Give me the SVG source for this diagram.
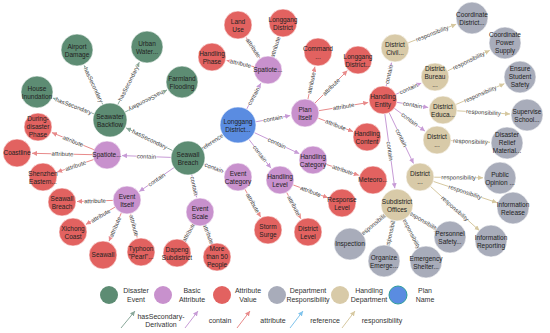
<svg xmlns="http://www.w3.org/2000/svg" width="550" height="333" viewBox="0 0 550 333">
<defs>
<style>
text{font-family:"Liberation Sans",Arial,sans-serif}
.n text{font-size:6.5px;fill:#222;text-anchor:middle}
.n circle{stroke:#ffffff;stroke-opacity:.6;stroke-width:1}
.g{fill:#5d8c73}.p{fill:#c891cd}.r{fill:#e26260}.y{fill:#a8acba}.e{fill:#d8caa8}.b{fill:#5a8ce1}
#edges line{stroke-width:1;fill:none}
.hs{stroke:#8aa89a;marker-end:url(#mG)}
.ct{stroke:#c79bd6;marker-end:url(#mP)}
.at{stroke:#e88a8a;marker-end:url(#mR)}
.rf{stroke:#7fc3ec;marker-end:url(#mB)}
.rs{stroke:#d6c8a0;marker-end:url(#mY)}
.el{font-size:6px;fill:#444;stroke:#fff;stroke-width:1.5;stroke-opacity:.85;paint-order:stroke;text-anchor:middle}
.lg{font-size:7px;fill:#333;text-anchor:middle}
</style>
<marker id="mG" viewBox="0 0 6 6" refX="6" refY="3" markerWidth="5" markerHeight="5" markerUnits="userSpaceOnUse" orient="auto"><path d="M0,0L6,3L0,6z" fill="#8aa89a"/></marker>
<marker id="mP" viewBox="0 0 6 6" refX="6" refY="3" markerWidth="5" markerHeight="5" markerUnits="userSpaceOnUse" orient="auto"><path d="M0,0L6,3L0,6z" fill="#c79bd6"/></marker>
<marker id="mR" viewBox="0 0 6 6" refX="6" refY="3" markerWidth="5" markerHeight="5" markerUnits="userSpaceOnUse" orient="auto"><path d="M0,0L6,3L0,6z" fill="#e88a8a"/></marker>
<marker id="mB" viewBox="0 0 6 6" refX="6" refY="3" markerWidth="5" markerHeight="5" markerUnits="userSpaceOnUse" orient="auto"><path d="M0,0L6,3L0,6z" fill="#7fc3ec"/></marker>
<marker id="mY" viewBox="0 0 6 6" refX="6" refY="3" markerWidth="5" markerHeight="5" markerUnits="userSpaceOnUse" orient="auto"><path d="M0,0L6,3L0,6z" fill="#d6c8a0"/></marker>
</defs>
<rect width="550" height="333" fill="#ffffff"/>

<g id="edges">
<line class="hs" x1="172.7" y1="150.6" x2="126.2" y2="127.9"/>
<line class="hs" x1="102.8" y1="104.6" x2="84.2" y2="65.4"/>
<line class="hs" x1="117.7" y1="104.8" x2="139.3" y2="62.2"/>
<line class="hs" x1="125" y1="112.1" x2="167" y2="89.9"/>
<line class="hs" x1="94.1" y1="113.9" x2="52.9" y2="98.1"/>
<line class="rf" x1="202.2" y1="148.6" x2="222.1" y2="135.5"/>
<line class="ct" x1="171" y1="157.4" x2="122" y2="155.6"/>
<line class="ct" x1="174" y1="167.6" x2="139.3" y2="191.5"/>
<line class="ct" x1="203.9" y1="164" x2="224" y2="171.7"/>
<line class="ct" x1="191.7" y1="174.6" x2="196.7" y2="197.4"/>
<line class="ct" x1="246.6" y1="109.2" x2="260.8" y2="83.2"/>
<line class="ct" x1="255.7" y1="121.8" x2="290.2" y2="115.6"/>
<line class="ct" x1="254.3" y1="132.6" x2="299.4" y2="153.7"/>
<line class="ct" x1="248.9" y1="139.3" x2="270.9" y2="168.1"/>
<line class="at" x1="260.2" y1="58.4" x2="246.3" y2="37.5"/>
<line class="at" x1="254.4" y1="66.8" x2="226.6" y2="60.4"/>
<line class="at" x1="272.3" y1="56.7" x2="278.4" y2="37.3"/>
<line class="at" x1="307.9" y1="99.3" x2="314.9" y2="66.7"/>
<line class="at" x1="314.9" y1="103.1" x2="347.4" y2="70.6"/>
<line class="at" x1="318.8" y1="110.7" x2="368.2" y2="102.5"/>
<line class="at" x1="318.1" y1="118.1" x2="353" y2="131.6"/>
<line class="ct" x1="386.1" y1="86.4" x2="391.6" y2="62.6"/>
<line class="ct" x1="395.8" y1="94.3" x2="421.3" y2="83.1"/>
<line class="ct" x1="396.8" y1="102.3" x2="428.2" y2="107.5"/>
<line class="ct" x1="394.3" y1="108.3" x2="424.9" y2="131.1"/>
<line class="ct" x1="389.1" y1="112.6" x2="413.5" y2="163.5"/>
<line class="ct" x1="384.8" y1="113.9" x2="394.8" y2="188.2"/>
<line class="at" x1="326.3" y1="164.4" x2="358.8" y2="175.3"/>
<line class="at" x1="293.1" y1="184.9" x2="327.9" y2="197.8"/>
<line class="at" x1="286.6" y1="192.3" x2="300.9" y2="218.8"/>
<line class="at" x1="244.9" y1="189.2" x2="260.6" y2="217"/>
<line class="at" x1="193.2" y1="224.2" x2="184.3" y2="239.9"/>
<line class="at" x1="204.9" y1="225.1" x2="211.7" y2="243"/>
<line class="at" x1="113" y1="200.4" x2="77" y2="201.5"/>
<line class="at" x1="115" y1="207.1" x2="85.9" y2="224.4"/>
<line class="at" x1="121.4" y1="212.8" x2="109" y2="241.2"/>
<line class="at" x1="130.6" y1="213.5" x2="137.1" y2="237.5"/>
<line class="at" x1="94" y1="149.7" x2="51.9" y2="132.6"/>
<line class="at" x1="93" y1="154.7" x2="32" y2="153.3"/>
<line class="at" x1="93.8" y1="159.5" x2="57.2" y2="172.1"/>
<line class="rs" x1="408" y1="42.9" x2="456.2" y2="24.2"/>
<line class="rs" x1="447.6" y1="70.9" x2="489.7" y2="50.4"/>
<line class="rs" x1="455.9" y1="104.5" x2="504.4" y2="83.7"/>
<line class="rs" x1="457" y1="110.8" x2="510" y2="114"/>
<line class="rs" x1="451" y1="140.6" x2="490" y2="142.3"/>
<line class="rs" x1="434" y1="177.2" x2="483" y2="177.8"/>
<line class="rs" x1="433.3" y1="181.4" x2="496.9" y2="202.6"/>
<line class="rs" x1="430.4" y1="186.4" x2="479.4" y2="230.6"/>
<line class="rs" x1="384.7" y1="215.2" x2="363.1" y2="233.1"/>
<line class="rs" x1="393.4" y1="220.6" x2="387.8" y2="244.4"/>
<line class="rs" x1="404.2" y1="219.3" x2="418.3" y2="246.9"/>
<line class="rs" x1="410.7" y1="213.3" x2="435.5" y2="228.2"/>

<text class="el" transform="translate(149.5,139.3) rotate(26)" dy="2">hasSecondary</text>
<text class="el" transform="translate(93.5,85) rotate(64.8)" dy="2">hasSecondary</text>
<text class="el" transform="translate(128.5,83.5) rotate(-63.1)" dy="2">hasSecondary</text>
<text class="el" transform="translate(146,101) rotate(152.2)" dy="2">hasSecondary</text>
<text class="el" transform="translate(73.5,106) rotate(21)" dy="2">hasSecondary</text>
<text class="el" transform="translate(212.2,142) rotate(-33.4)" dy="2">reference</text>
<text class="el" transform="translate(146.5,156.5) rotate(2.1)" dy="2">contain</text>
<text class="el" transform="translate(156.7,179.6) rotate(-34.5)" dy="2">contain</text>
<text class="el" transform="translate(214,167.9) rotate(20.8)" dy="2">contain</text>
<text class="el" transform="translate(194.2,186) rotate(77.5)" dy="2">contain</text>
<text class="el" transform="translate(253.7,96.2) rotate(-61.4)" dy="2">contain</text>
<text class="el" transform="translate(273,118.7) rotate(-10.2)" dy="2">contain</text>
<text class="el" transform="translate(276.9,143.2) rotate(25)" dy="2">contain</text>
<text class="el" transform="translate(259.9,153.7) rotate(52.6)" dy="2">contain</text>
<text class="el" transform="translate(253.3,48) rotate(56.3)" dy="2">attribute</text>
<text class="el" transform="translate(240.5,63.6) rotate(13.1)" dy="2">attribute</text>
<text class="el" transform="translate(275.4,47) rotate(-72.3)" dy="2">attribute</text>
<text class="el" transform="translate(311.4,83) rotate(-78)" dy="2">attribute</text>
<text class="el" transform="translate(331.2,86.9) rotate(-45)" dy="2">attribute</text>
<text class="el" transform="translate(343.5,106.6) rotate(-9.5)" dy="2">attribute</text>
<text class="el" transform="translate(335.6,124.9) rotate(21.2)" dy="2">attribute</text>
<text class="el" transform="translate(388.9,74.5) rotate(-77)" dy="2">contain</text>
<text class="el" transform="translate(408.6,88.7) rotate(-23.9)" dy="2">contain</text>
<text class="el" transform="translate(412.5,104.9) rotate(9.5)" dy="2">contain</text>
<text class="el" transform="translate(409.6,119.7) rotate(36.5)" dy="2">contain</text>
<text class="el" transform="translate(401.3,138) rotate(64.3)" dy="2">contain</text>
<text class="el" transform="translate(389.8,151) rotate(82.4)" dy="2">contain</text>
<text class="el" transform="translate(342.6,169.9) rotate(18.4)" dy="2">attribute</text>
<text class="el" transform="translate(310.5,191.4) rotate(20.4)" dy="2">attribute</text>
<text class="el" transform="translate(293.8,205.6) rotate(61.7)" dy="2">attribute</text>
<text class="el" transform="translate(252.8,203.1) rotate(60.5)" dy="2">attribute</text>
<text class="el" transform="translate(188.8,232) rotate(-60.7)" dy="2">attribute</text>
<text class="el" transform="translate(208.3,234) rotate(69.3)" dy="2">attribute</text>
<text class="el" transform="translate(95,201) rotate(-1.8)" dy="2">attribute</text>
<text class="el" transform="translate(100.5,215.8) rotate(-30.6)" dy="2">attribute</text>
<text class="el" transform="translate(115.2,227) rotate(-66.4)" dy="2">attribute</text>
<text class="el" transform="translate(133.9,225.5) rotate(75)" dy="2">attribute</text>
<text class="el" transform="translate(73,141.2) rotate(22.1)" dy="2">attribute</text>
<text class="el" transform="translate(62.5,154) rotate(1.3)" dy="2">attribute</text>
<text class="el" transform="translate(75.5,165.8) rotate(-19)" dy="2">attribute</text>
<text class="el" transform="translate(432.1,33.6) rotate(-21.3)" dy="2">responsibility</text>
<text class="el" transform="translate(468.7,60.7) rotate(-25.9)" dy="2">responsibility</text>
<text class="el" transform="translate(480.2,94.1) rotate(-23.2)" dy="2">responsibility</text>
<text class="el" transform="translate(483.5,112.4) rotate(3.4)" dy="2">responsibility</text>
<text class="el" transform="translate(470.5,141.5) rotate(2.5)" dy="2">responsibility</text>
<text class="el" transform="translate(458.5,177.5) rotate(0.7)" dy="2">responsibility</text>
<text class="el" transform="translate(465.1,192) rotate(18.4)" dy="2">responsibility</text>
<text class="el" transform="translate(454.9,208.5) rotate(42)" dy="2">responsibility</text>
<text class="el" transform="translate(373.9,224.2) rotate(-39.7)" dy="2">responsibility</text>
<text class="el" transform="translate(390.6,232.5) rotate(-76.9)" dy="2">responsibility</text>
<text class="el" transform="translate(411.3,233.1) rotate(63)" dy="2">responsibility</text>
<text class="el" transform="translate(423.1,220.8) rotate(31.1)" dy="2">responsibility</text>
</g>

<g id="n-airport" class="n"><circle class="g" cx="77" cy="50" r="16"/><text x="77" y="48.5">Airport<tspan x="77" dy="8">Damage</tspan></text></g>
<g id="n-urban" class="n"><circle class="g" cx="147" cy="47" r="16"/><text x="147" y="45.5">Urban<tspan x="147" dy="8">Water...</tspan></text></g>
<g id="n-farmland" class="n"><circle class="g" cx="182" cy="82" r="16"/><text x="182" y="80.5">Farmland<tspan x="182" dy="8">Flooding</tspan></text></g>
<g id="n-house" class="n"><circle class="g" cx="37" cy="92" r="16"/><text x="37" y="90.5">House<tspan x="37" dy="8">Inundation</tspan></text></g>
<g id="n-seawater" class="n"><circle class="g" cx="110" cy="120" r="17"/><text x="110" y="118.5">Seawater<tspan x="110" dy="8">Backflow</tspan></text></g>
<g id="n-seawallbreach" class="n"><circle class="g" cx="188" cy="158" r="17"/><text x="188" y="156.5">Seawall<tspan x="188" dy="8">Breach</tspan></text></g>
<g id="n-plan" class="n"><circle class="b" cx="238" cy="125" r="18"/><text x="238" y="123.5">Longgang<tspan x="238" dy="8">District...</tspan></text></g>

<g id="n-spatio1" class="n"><circle class="p" cx="268" cy="70" r="14"/><text x="268" y="72.3">Spatiote...</text></g>
<g id="n-planitself" class="n"><circle class="p" cx="305" cy="113" r="14"/><text x="305" y="111.5">Plan<tspan x="305" dy="8">Itself</tspan></text></g>
<g id="n-handcat" class="n"><circle class="p" cx="313" cy="160" r="14"/><text x="313" y="158.5">Handling<tspan x="313" dy="8">Category</tspan></text></g>
<g id="n-handlevel" class="n"><circle class="p" cx="280" cy="180" r="14"/><text x="280" y="178.5">Handling<tspan x="280" dy="8">Level</tspan></text></g>
<g id="n-eventcat" class="n"><circle class="p" cx="238" cy="177" r="14"/><text x="238" y="175.5">Event<tspan x="238" dy="8">Category</tspan></text></g>
<g id="n-eventscale" class="n"><circle class="p" cx="200" cy="212" r="14"/><text x="200" y="210.5">Event<tspan x="200" dy="8">Scale</tspan></text></g>
<g id="n-spatio2" class="n"><circle class="p" cx="107" cy="155" r="14"/><text x="107" y="157.3">Spatiote...</text></g>
<g id="n-eventitself" class="n"><circle class="p" cx="127" cy="200" r="14"/><text x="127" y="198.5">Event<tspan x="127" dy="8">Itself</tspan></text></g>

<g id="n-landuse" class="n"><circle class="r" cx="238" cy="25" r="14"/><text x="238" y="23.5">Land<tspan x="238" dy="8">Use</tspan></text></g>
<g id="n-lgd1" class="n"><circle class="r" cx="283" cy="23" r="14"/><text x="283" y="21.5">Longgang<tspan x="283" dy="8">District</tspan></text></g>
<g id="n-handphase" class="n"><circle class="r" cx="212" cy="57" r="14"/><text x="212" y="55.5">Handling<tspan x="212" dy="8">Phase</tspan></text></g>
<g id="n-command" class="n"><circle class="r" cx="318" cy="52" r="14"/><text x="318" y="50.5">Command<tspan x="318" dy="8">...</tspan></text></g>
<g id="n-lgd2" class="n"><circle class="r" cx="358" cy="60" r="14"/><text x="358" y="58.5">Longgang<tspan x="358" dy="8">District...</tspan></text></g>
<g id="n-handentity" class="n"><circle class="r" cx="383" cy="100" r="14"/><text x="383" y="98.5">Handling<tspan x="383" dy="8">Entity</tspan></text></g>
<g id="n-handcontent" class="n"><circle class="r" cx="367" cy="137" r="14"/><text x="367" y="135.5">Handling<tspan x="367" dy="8">Content</tspan></text></g>
<g id="n-meteoro" class="n"><circle class="r" cx="373" cy="180" r="14"/><text x="373" y="182.3">Meteoro...</text></g>
<g id="n-response" class="n"><circle class="r" cx="342" cy="203" r="14"/><text x="342" y="201.5">Response<tspan x="342" dy="8">Level</tspan></text></g>
<g id="n-distlevel" class="n"><circle class="r" cx="308" cy="232" r="14"/><text x="308" y="230.5">District<tspan x="308" dy="8">Level</tspan></text></g>
<g id="n-storm" class="n"><circle class="r" cx="268" cy="230" r="14"/><text x="268" y="228.5">Storm<tspan x="268" dy="8">Surge</tspan></text></g>
<g id="n-dapeng" class="n"><circle class="r" cx="177" cy="253" r="14"/><text x="177" y="251.5">Dapeng<tspan x="177" dy="8">Subdistrict</tspan></text></g>
<g id="n-more50" class="n"><circle class="r" cx="217" cy="257" r="14"/><text x="217" y="251">More<tspan x="217" dy="8">than 50</tspan><tspan x="217" dy="8">People</tspan></text></g>
<g id="n-typhoon" class="n"><circle class="r" cx="141" cy="252" r="14"/><text x="141" y="250.5">Typhoon<tspan x="141" dy="8">"Pearl"...</tspan></text></g>
<g id="n-seawall" class="n"><circle class="r" cx="103" cy="255" r="14"/><text x="103" y="257.3">Seawall</text></g>
<g id="n-xichong" class="n"><circle class="r" cx="73" cy="232" r="14"/><text x="73" y="230.5">Xichong<tspan x="73" dy="8">Coast</tspan></text></g>
<g id="n-breachval" class="n"><circle class="r" cx="62" cy="202" r="14"/><text x="62" y="200.5">Seawall<tspan x="62" dy="8">Breach</tspan></text></g>
<g id="n-shenzhen" class="n"><circle class="r" cx="43" cy="177" r="14"/><text x="43" y="175.5">Shenzhen<tspan x="43" dy="8">Eastern...</tspan></text></g>
<g id="n-coastline" class="n"><circle class="r" cx="17" cy="153" r="14"/><text x="17" y="155.3">Coastline</text></g>
<g id="n-during" class="n"><circle class="r" cx="38" cy="127" r="14"/><text x="38" y="121">During-<tspan x="38" dy="8">disaster</tspan><tspan x="38" dy="8">Phase</tspan></text></g>

<g id="n-civil" class="n"><circle class="e" cx="395" cy="48" r="14"/><text x="395" y="46.5">District<tspan x="395" dy="8">Civil...</tspan></text></g>
<g id="n-bureau" class="n"><circle class="e" cx="435" cy="77" r="14"/><text x="435" y="71">District<tspan x="435" dy="8">Bureau</tspan><tspan x="435" dy="8">...</tspan></text></g>
<g id="n-educa" class="n"><circle class="e" cx="443" cy="110" r="14"/><text x="443" y="108.5">District<tspan x="443" dy="8">Educa...</tspan></text></g>
<g id="n-dist3" class="n"><circle class="e" cx="437" cy="140" r="14"/><text x="437" y="138.5">District<tspan x="437" dy="8">...</tspan></text></g>
<g id="n-dist4" class="n"><circle class="e" cx="420" cy="177" r="14"/><text x="420" y="175.5">District<tspan x="420" dy="8">...</tspan></text></g>
<g id="n-subdistrict" class="n"><circle class="e" cx="397" cy="205" r="16"/><text x="397" y="203.5">Subdistrict<tspan x="397" dy="8">Offices</tspan></text></g>

<g id="n-coorddist" class="n"><circle class="y" cx="472" cy="18" r="16"/><text x="472" y="16.5">Coordinate<tspan x="472" dy="8">District...</tspan></text></g>
<g id="n-coordpower" class="n"><circle class="y" cx="505" cy="43" r="16"/><text x="505" y="37">Coordinate<tspan x="505" dy="8">Power</tspan><tspan x="505" dy="8">Supply</tspan></text></g>
<g id="n-ensure" class="n"><circle class="y" cx="520" cy="77" r="16"/><text x="520" y="71">Ensure<tspan x="520" dy="8">Student</tspan><tspan x="520" dy="8">Safety</tspan></text></g>
<g id="n-supervise" class="n"><circle class="y" cx="527" cy="115" r="16"/><text x="527" y="113.5">Supervise<tspan x="527" dy="8">School...</tspan></text></g>
<g id="n-relief" class="n"><circle class="y" cx="507" cy="143" r="16"/><text x="507" y="137">Disaster<tspan x="507" dy="8">Relief</tspan><tspan x="507" dy="8">Material...</tspan></text></g>
<g id="n-opinion" class="n"><circle class="y" cx="500" cy="178" r="16"/><text x="500" y="176.5">Public<tspan x="500" dy="8">Opinion ...</tspan></text></g>
<g id="n-release" class="n"><circle class="y" cx="513" cy="208" r="16"/><text x="513" y="206.5">Information<tspan x="513" dy="8">Release</tspan></text></g>
<g id="n-reporting" class="n"><circle class="y" cx="491" cy="241" r="16"/><text x="491" y="239.5">Information<tspan x="491" dy="8">Reporting</tspan></text></g>
<g id="n-inspection" class="n"><circle class="y" cx="350" cy="244" r="16"/><text x="350" y="246.3">Inspection</text></g>
<g id="n-organize" class="n"><circle class="y" cx="384" cy="261" r="16"/><text x="384" y="259.5">Organize<tspan x="384" dy="8">Emerge...</tspan></text></g>
<g id="n-shelter" class="n"><circle class="y" cx="426" cy="262" r="16"/><text x="426" y="260.5">Emergency<tspan x="426" dy="8">Shelter...</tspan></text></g>
<g id="n-personnel" class="n"><circle class="y" cx="450" cy="237" r="16"/><text x="450" y="235.5">Personnel<tspan x="450" dy="8">Safety...</tspan></text></g>

<g id="legend">
<circle class="g" cx="109" cy="295" r="9"/>
<text class="lg" x="136" y="292.5">Disaster<tspan x="136" dy="9">Event</tspan></text>
<circle class="p" cx="163" cy="295" r="9"/>
<text class="lg" x="192" y="292.5">Basic<tspan x="192" dy="9">Attribute</tspan></text>
<circle class="r" cx="222" cy="295" r="9"/>
<text class="lg" x="248" y="292.5">Attribute<tspan x="248" dy="9">Value</tspan></text>
<circle class="y" cx="277" cy="295" r="9"/>
<text class="lg" x="308" y="292.5">Department<tspan x="308" dy="9">Responsibility</tspan></text>
<circle class="e" cx="340" cy="295" r="9"/>
<text class="lg" x="369" y="292.5">Handling<tspan x="369" dy="9">Department</tspan></text>
<circle class="b" cx="398" cy="295" r="9" stroke="#2f9e9a" stroke-width="1"/>
<text class="lg" x="425" y="292.5">Plan<tspan x="425" dy="9">Name</tspan></text>

<line class="hs" x1="121" y1="328" x2="135" y2="311" stroke-width="1"/>
<text class="lg" x="161" y="318.5">hasSecondary-<tspan x="161" dy="8">Derivation</tspan></text>
<line class="ct" x1="185" y1="328" x2="198" y2="311" stroke-width="1"/>
<text class="lg" x="220" y="322.5">contain</text>
<line class="at" x1="237" y1="328" x2="250" y2="311" stroke-width="1"/>
<text class="lg" x="273" y="322.5">attribute</text>
<line class="rf" x1="290" y1="328" x2="303" y2="311" stroke-width="1"/>
<text class="lg" x="325" y="322.5">reference</text>
<line class="rs" x1="342" y1="328" x2="355" y2="311" stroke-width="1"/>
<text class="lg" x="382" y="322.5">responsibility</text>
</g>
</svg>
